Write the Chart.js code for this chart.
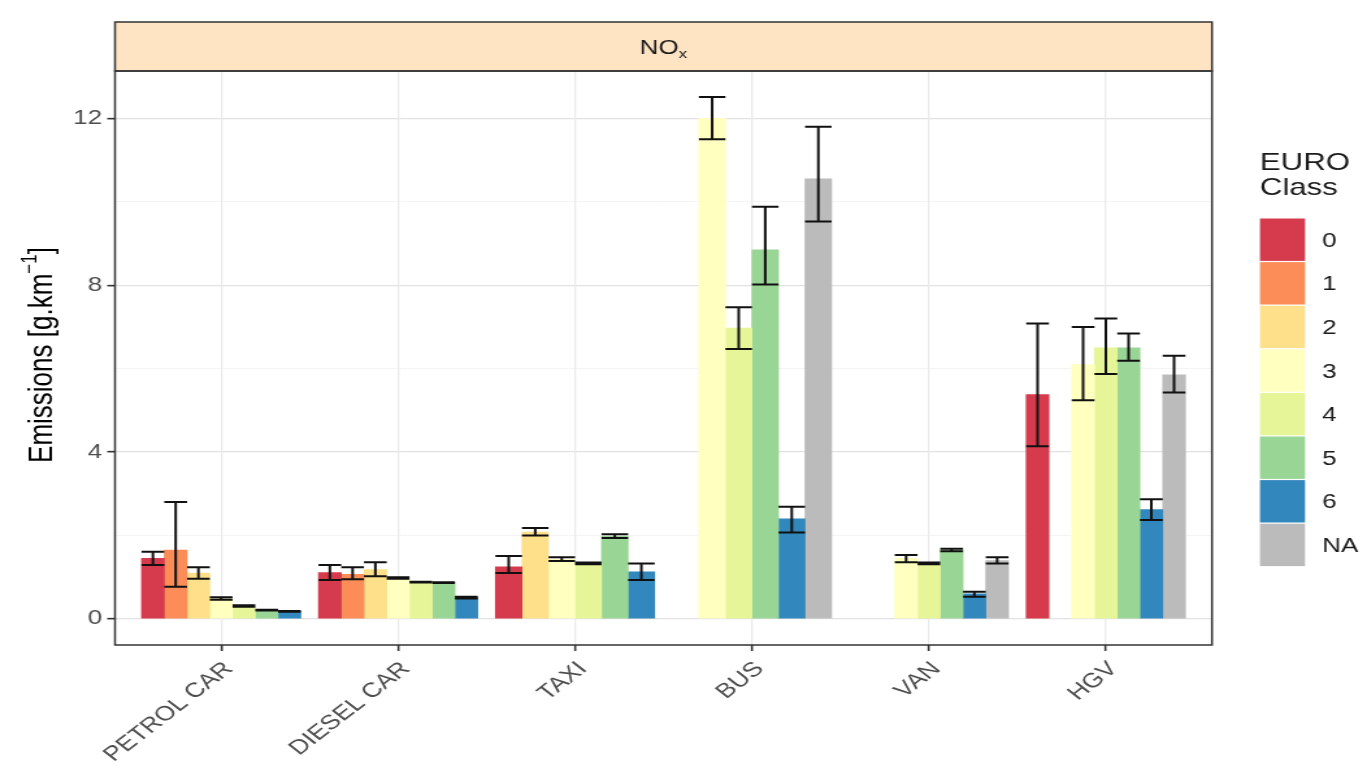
<!DOCTYPE html>
<html>
<head>
<meta charset="utf-8">
<script src="https://cdn.jsdelivr.net/npm/chart.js@4.4.1/dist/chart.umd.min.js"></script>
<style>
  html, body { margin: 0; padding: 0; background: #ffffff; overflow: hidden; }
  #chart { display: block; width: 1367px !important; height: 773px !important; }
</style>
</head>
<body>
<canvas id="chart" width="1052" height="773" style="width:1367px;height:773px"></canvas>
<script>
// NOx emission factors by vehicle type and EURO class (g/km)
const vehicleTypes = ['PETROL CAR', 'DIESEL CAR', 'TAXI', 'BUS', 'VAN', 'HGV'];
const euroClasses  = ['0', '1', '2', '3', '4', '5', '6', 'NA'];
const euroColours  = ['#D63A4D', '#FC8D59', '#FEE08B', '#FFFFBF', '#E6F598', '#99D594', '#3288BD', '#BBBBBB'];

// mean emission per class, one value per vehicle type
const euro0  = [1.45, 1.11, 1.25, null, null, 5.38];
const euro1  = [1.65, 1.07, null, null, null, null];
const euro2  = [1.10, 1.18, 2.08, null, null, null];
const euro3  = [0.49, 0.98, 1.43, 12.00, 1.45, 6.10];
const euro4  = [0.31, 0.88, 1.33, 6.97, 1.33, 6.50];
const euro5  = [0.21, 0.87, 1.98, 8.85, 1.65, 6.50];
const euro6  = [0.18, 0.51, 1.13, 2.40, 0.60, 2.62];
const euroNA = [null, null, null, 10.55, 1.40, 5.85];

// lower / upper bounds of the error bars
const lower0  = [1.29, 0.93, 1.10, null, null, 4.14];
const upper0  = [1.61, 1.29, 1.51, null, null, 7.08];
const lower1  = [0.77, 0.95, null, null, null, null];
const upper1  = [2.80, 1.24, null, null, null, null];
const lower2  = [0.96, 1.02, 2.00, null, null, null];
const upper2  = [1.24, 1.36, 2.18, null, null, null];
const lower3  = [0.46, 0.96, 1.39, 11.50, 1.36, 5.24];
const upper3  = [0.52, 1.00, 1.48, 12.51, 1.53, 7.00];
const lower4  = [0.29, 0.87, 1.31, 6.47, 1.31, 5.87];
const upper4  = [0.33, 0.89, 1.35, 7.47, 1.35, 7.20];
const lower5  = [0.20, 0.86, 1.94, 8.02, 1.62, 6.19];
const upper5  = [0.22, 0.88, 2.03, 9.88, 1.68, 6.84];
const lower6  = [0.17, 0.49, 0.93, 2.07, 0.53, 2.37];
const upper6  = [0.19, 0.53, 1.33, 2.69, 0.65, 2.87];
const lowerNA = [null, null, null, 9.53, 1.33, 5.43];
const upperNA = [null, null, null, 11.80, 1.48, 6.31];

// classes reported for each vehicle type, in dodge order (a class may be reported without a value)
const reportedClasses = [
  ['0', '1', '2', '3', '4', '5', '6'],
  ['0', '1', '2', '3', '4', '5', '6'],
  ['0', '2', '3', '4', '5', '6'],
  ['2', '3', '4', '5', '6', 'NA'],
  ['1', '2', '3', '4', '5', '6', 'NA'],
  ['0', '2', '3', '4', '5', '6', 'NA']
];

const yMajorTicks = [0, 4, 8, 12];
const yMinorTicks = [2, 6, 10];

const meanByClass  = [euro0, euro1, euro2, euro3, euro4, euro5, euro6, euroNA];
const lowerByClass = [lower0, lower1, lower2, lower3, lower4, lower5, lower6, lowerNA];
const upperByClass = [upper0, upper1, upper2, upper3, upper4, upper5, upper6, upperNA];

const FONT = '"Liberation Sans", Arial, Helvetica, sans-serif';
const DODGE_WIDTH = 0.9;

// y range: data range plus 5% expansion each side
const allUpper = upperByClass.flat().filter(v => v !== null);
const yTop = Math.max(...allUpper);
const yPad = 0.05 * yTop;

// x range: categories 1..n with 0.6 expansion each side
const xMin = 1 - 0.6;
const xMax = vehicleTypes.length + 0.6;

// dodge: each vehicle type is split into as many slots as classes it reports.
// One dataset per (slot count, class) so all its bars share one width.
const slotCounts = [...new Set(reportedClasses.map(r => r.length))];
const datasets = [];
slotCounts.forEach(n => {
  euroClasses.forEach((cls, c) => {
    const points = [], lows = [], highs = [];
    vehicleTypes.forEach((v, i) => {
      const slots = reportedClasses[i];
      const s = slots.indexOf(cls);
      if (slots.length !== n || s < 0 || meanByClass[c][i] === null) return;
      points.push({ x: i + 1 - DODGE_WIDTH / 2 + (s + 0.5) * DODGE_WIDTH / n, y: meanByClass[c][i] });
      lows.push(lowerByClass[c][i]);
      highs.push(upperByClass[c][i]);
    });
    if (!points.length) return;
    datasets.push({
      label: 'EURO ' + cls,
      slotWidth: DODGE_WIDTH / n,
      data: points,
      errLow: lows,
      errHigh: highs,
      backgroundColor: euroColours[c],
      borderWidth: 0,
      grouped: false
    });
  });
});

// bar thickness in pixels for each dataset, from the laid-out x scale
const barWidthFromScale = {
  id: 'barWidthFromScale',
  afterLayout(chart) {
    const x = chart.scales.x;
    chart.data.datasets.forEach(ds => {
      ds.barThickness = Math.abs(x.getPixelForValue(1 + ds.slotWidth) - x.getPixelForValue(1));
    });
  }
};

const scales = {
  y: {
    type: 'linear',
    min: -yPad,
    max: yTop + yPad,
    stacked: false,
    afterBuildTicks: s => {
      s.ticks = [...yMajorTicks, ...yMinorTicks].sort((a, b) => a - b).map(v => ({ value: v }));
    },
    afterFit: s => { s.width = 88.5; },
    border: { display: false },
    grid: {
      color: c => yMajorTicks.includes(c.tick && c.tick.value) ? '#E2E2E2' : '#F1F1F1',
      lineWidth: c => yMajorTicks.includes(c.tick && c.tick.value) ? 1.3 : 0.8,
      tickColor: c => yMajorTicks.includes(c.tick && c.tick.value) ? '#333333' : 'rgba(0,0,0,0)',
      tickWidth: 1.6,
      tickLength: 6
    },
    ticks: {
      callback: v => yMajorTicks.includes(v) ? String(v) : '',
      color: '#4D4D4D',
      font: { family: FONT, size: 20 },
      padding: 4
    }
  },
  x: {
    type: 'linear',
    position: 'bottom',
    offset: false,
    min: xMin,
    max: xMax,
    afterBuildTicks: s => { s.ticks = vehicleTypes.map((v, i) => ({ value: i + 1 })); },
    afterFit: s => { s.height = 128; },
    border: { display: false },
    grid: {
      offset: false,
      color: '#EAEAEA',
      lineWidth: 1.3,
      tickColor: '#333333',
      tickWidth: 1.6,
      tickLength: 6
    },
    ticks: {
      autoSkip: false,
      minRotation: 45,
      maxRotation: 45,
      padding: 6,
      labelOffset: 6,
      color: '#4D4D4D',
      font: { family: FONT, size: 20.5 },
      callback: v => vehicleTypes[Math.round(v) - 1]
    }
  }
};

// vertical error bars with caps as wide as their bar
const errorBars = {
  id: 'errorBars',
  afterDatasetsDraw(chart) {
    const ctx = chart.ctx;
    const y = chart.scales.y;
    ctx.save();
    ctx.strokeStyle = '#111111';
    ctx.lineWidth = 2;
    chart.data.datasets.forEach((ds, di) => {
      const meta = chart.getDatasetMeta(di);
      meta.data.forEach((bar, i) => {
        const lo = ds.errLow[i], hi = ds.errHigh[i];
        if (lo === null || hi === null) return;
        const { x, width } = bar.getProps(['x', 'width'], true);
        const yl = y.getPixelForValue(lo), yh = y.getPixelForValue(hi);
        const h = width / 2;
        ctx.beginPath();
        ctx.moveTo(x, yl); ctx.lineTo(x, yh);
        ctx.moveTo(x - h, yl); ctx.lineTo(x + h, yl);
        ctx.moveTo(x - h, yh); ctx.lineTo(x + h, yh);
        ctx.stroke();
      });
    });
    ctx.restore();
  }
};

// panel frame, facet strip, axis title and class legend
const decorations = {
  id: 'decorations',
  afterDraw(chart) {
    const ctx = chart.ctx;
    const a = chart.chartArea;
    ctx.save();

    // facet strip
    const stripTop = 22;
    ctx.fillStyle = '#FFE4C4';
    ctx.fillRect(a.left, stripTop, a.right - a.left, a.top - stripTop);
    ctx.strokeStyle = '#333333';
    ctx.lineWidth = 1.5;
    ctx.strokeRect(a.left, stripTop, a.right - a.left, a.top - stripTop);
    ctx.fillStyle = '#1A1A1A';
    ctx.textBaseline = 'alphabetic';
    ctx.font = '20px ' + FONT;
    const wNO = ctx.measureText('NO').width;
    ctx.font = '13px ' + FONT;
    const wx = ctx.measureText('x').width;
    const cx = (a.left + a.right) / 2 - (wNO + wx) / 2;
    const by = (stripTop + a.top) / 2 + 7;
    ctx.font = '20px ' + FONT;
    ctx.textAlign = 'left';
    ctx.fillText('NO', cx, by);
    ctx.font = '13px ' + FONT;
    ctx.fillText('x', cx + wNO, by + 4);

    // panel border
    ctx.strokeStyle = '#333333';
    ctx.lineWidth = 1.5;
    ctx.strokeRect(a.left, a.top, a.right - a.left, a.bottom - a.top);

    // y axis title with superscript unit
    ctx.save();
    ctx.translate(31, 355);
    ctx.rotate(-Math.PI / 2);
    ctx.fillStyle = '#000000';
    const mainTxt = 'Emissions [g.km', supTxt = '\u22121', tailTxt = ']';
    ctx.font = '26px ' + FONT;
    const w1 = ctx.measureText(mainTxt).width, w3 = ctx.measureText(tailTxt).width;
    ctx.font = '17px ' + FONT;
    const w2 = ctx.measureText(supTxt).width;
    const tx = -(w1 + w2 + w3) / 2;
    ctx.textAlign = 'left';
    ctx.textBaseline = 'alphabetic';
    ctx.font = '26px ' + FONT;
    ctx.fillText(mainTxt, tx, 9);
    ctx.font = '17px ' + FONT;
    ctx.fillText(supTxt, tx + w1, -3);
    ctx.font = '26px ' + FONT;
    ctx.fillText(tailTxt, tx + w1 + w2, 9);
    ctx.restore();

    // legend
    const keyLeft = 969.6, keyWidth = 34.7, keyTop = 218.5, keyPitch = 43.6;
    ctx.fillStyle = '#1A1A1A';
    ctx.font = '24px ' + FONT;
    ctx.textAlign = 'left';
    ctx.textBaseline = 'alphabetic';
    ctx.fillText('EURO', keyLeft, 170);
    ctx.fillText('Class', keyLeft, 195);
    ctx.font = '20px ' + FONT;
    ctx.textBaseline = 'middle';
    euroClasses.forEach((c, k) => {
      const top = keyTop + k * keyPitch;
      ctx.fillStyle = euroColours[k];
      ctx.fillRect(keyLeft, top, keyWidth, keyPitch - 1.2);
      ctx.fillStyle = '#1A1A1A';
      ctx.fillText(c, 1017.5, top + keyPitch / 2 + 1);
    });

    ctx.restore();
  }
};

new Chart(document.getElementById('chart'), {
  type: 'bar',
  data: { datasets },
  options: {
    responsive: false,
    devicePixelRatio: 1,
    animation: false,
    events: [],
    layout: { padding: { top: 71, right: 119.3, left: 0, bottom: 0 } },
    scales,
    plugins: {
      legend: { display: false },
      tooltip: { enabled: false },
      title: { display: false }
    }
  },
  plugins: [barWidthFromScale, errorBars, decorations]
});
</script>
</body>
</html>
